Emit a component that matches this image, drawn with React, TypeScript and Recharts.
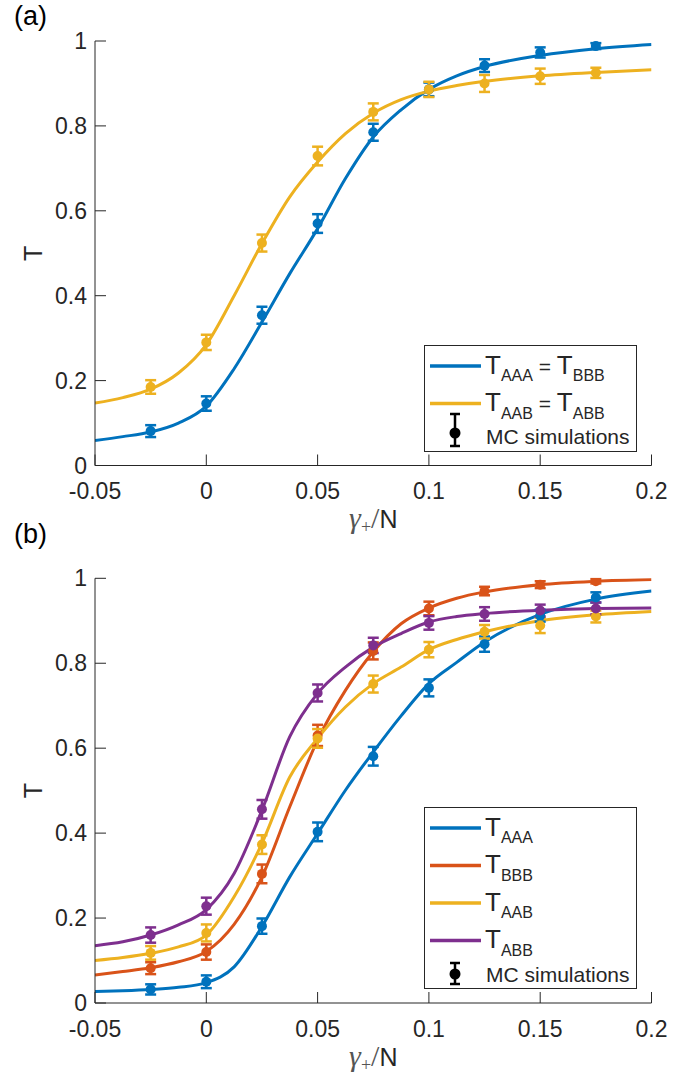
import { ComposedChart, Line, Scatter, ErrorBar, XAxis, YAxis, Legend, Label } from 'recharts';

const FONT = '"Liberation Sans", Arial, Helvetica, sans-serif';
const AXIS = '#262626';
const BLUE = '#0072BD';
const ORANGE = '#D95319';
const YELLOW = '#EDB120';
const PURPLE = '#7E2F8E';

const xTicks = [-0.05, 0, 0.05, 0.1, 0.15, 0.2];
const yTicks = [0, 0.2, 0.4, 0.6, 0.8, 1];

// x positions of the theory curves and of the MC points
const curveX = [-0.05, -0.0375, -0.025, -0.0125, 0, 0.0125, 0.025, 0.0375, 0.05, 0.0625, 0.075, 0.0875, 0.1, 0.1125, 0.125, 0.15, 0.175, 0.2];
const mcX = [-0.025, 0, 0.025, 0.05, 0.075, 0.1, 0.125, 0.15, 0.175];

// panel (a)
const aCurveAAA = [0.059, 0.068, 0.079, 0.1, 0.14, 0.228, 0.338, 0.452, 0.558, 0.676, 0.774, 0.838, 0.886, 0.918, 0.94, 0.966, 0.982, 0.992];
const aCurveAAB = [0.147, 0.16, 0.18, 0.218, 0.285, 0.4, 0.523, 0.633, 0.715, 0.782, 0.83, 0.862, 0.882, 0.895, 0.905, 0.918, 0.926, 0.932];
const aMcAAA = [0.081, 0.146, 0.354, 0.57, 0.785, 0.886, 0.942, 0.973, 0.988];
const aErrAAA = [0.014, 0.017, 0.02, 0.022, 0.02, 0.016, 0.015, 0.012, 0.007];
const aMcAAB = [0.185, 0.29, 0.524, 0.729, 0.833, 0.886, 0.9, 0.917, 0.925];
const aErrAAB = [0.016, 0.018, 0.02, 0.022, 0.02, 0.018, 0.02, 0.018, 0.012];

// panel (b)
const bCurveAAA = [0.027, 0.029, 0.032, 0.037, 0.048, 0.085, 0.18, 0.297, 0.399, 0.501, 0.591, 0.676, 0.752, 0.802, 0.85, 0.915, 0.951, 0.97];
const bCurveBBB = [0.066, 0.074, 0.083, 0.097, 0.121, 0.185, 0.297, 0.462, 0.619, 0.736, 0.827, 0.893, 0.93, 0.953, 0.968, 0.985, 0.993, 0.997];
const bCurveAAB = [0.1, 0.107, 0.117, 0.132, 0.16, 0.25, 0.376, 0.532, 0.623, 0.697, 0.752, 0.791, 0.832, 0.856, 0.874, 0.9, 0.914, 0.922];
const bCurveABB = [0.135, 0.144, 0.16, 0.184, 0.22, 0.305, 0.454, 0.627, 0.729, 0.791, 0.838, 0.87, 0.897, 0.91, 0.917, 0.925, 0.929, 0.93];
const bMcAAA = [0.032, 0.05, 0.181, 0.403, 0.581, 0.742, 0.845, 0.912, 0.955];
const bErrAAA = [0.012, 0.015, 0.018, 0.022, 0.022, 0.02, 0.018, 0.014, 0.012];
const bMcBBB = [0.082, 0.12, 0.304, 0.63, 0.829, 0.929, 0.97, 0.985, 0.993];
const bErrBBB = [0.014, 0.018, 0.022, 0.025, 0.02, 0.016, 0.01, 0.008, 0.005];
const bMcAAB = [0.118, 0.165, 0.373, 0.623, 0.751, 0.832, 0.874, 0.889, 0.91];
const bErrAAB = [0.016, 0.02, 0.022, 0.022, 0.02, 0.018, 0.016, 0.018, 0.014];
const bMcABB = [0.16, 0.228, 0.456, 0.73, 0.842, 0.895, 0.916, 0.924, 0.929];
const bErrABB = [0.018, 0.02, 0.022, 0.02, 0.018, 0.016, 0.016, 0.014, 0.014];

const toCurve = (ys: number[]) => curveX.map((x, i) => ({ x, y: ys[i] }));
const toPoints = (ys: number[], errs: number[]) => mcX.map((x, i) => ({ x, y: ys[i], err: errs[i] }));

type Series = { color: string; curve: number[]; mc: number[]; err: number[] };
type Entry = { color: string; sub: string; sub2?: string };
type McIcon = { top: number; bottom: number; dot: number; text: number };

function XLabel(props: any) {
  const vb = props.viewBox;
  const cx = vb.x + vb.width / 2;
  return (
    <text x={cx} y={vb.y + 62.5} textAnchor="middle" fill={AXIS}>
      <tspan fontFamily='"Liberation Serif", serif' fontStyle="italic" fontSize={30} fill="#555">γ</tspan>
      <tspan fontFamily='"Liberation Serif", serif' fontSize={18} dy={5} fill="#555">+</tspan>
      <tspan fontFamily='"Liberation Serif", serif' fontSize={30} dy={-5} fill="#555">/</tspan>
      <tspan fontFamily={FONT} fontSize={25}>N</tspan>
    </text>
  );
}

function YLabel(props: any) {
  const vb = props.viewBox;
  const x = 42;
  const y = vb.y + vb.height / 2;
  return (
    <text x={x} y={y} transform={`rotate(-90, ${x}, ${y})`} textAnchor="middle" fontFamily={FONT} fontSize={25} fill={AXIS}>
      T
    </text>
  );
}

function LegendBox({ entries, height, mc }: { entries: Entry[]; height: number; mc: McIcon }) {
  return (
    <div style={{ width: 213, height, boxSizing: 'border-box', border: `1px solid ${AXIS}`, background: '#fff' }}>
      <svg width={211} height={height - 2} style={{ display: 'block' }}>
        {entries.map((e, i) => {
          const ly = 20 + i * 37.5;
          return (
            <g key={i}>
              <line x1={5} x2={56} y1={ly} y2={ly} stroke={e.color} strokeWidth={3.5} />
              <text x={60} y={ly + 7.5} fontFamily={FONT} fill={AXIS}>
                <tspan fontSize={26}>T</tspan>
                <tspan fontSize={16} dy={7.5}>{e.sub}</tspan>
                {e.sub2 && <tspan fontSize={21} dy={-7.5}> = </tspan>}
                {e.sub2 && <tspan fontSize={26}>T</tspan>}
                {e.sub2 && <tspan fontSize={16} dy={7.5}>{e.sub2}</tspan>}
              </text>
            </g>
          );
        })}
        <line x1={30} x2={30} y1={mc.top} y2={mc.bottom} stroke="#000" strokeWidth={2.5} />
        <line x1={25} x2={35} y1={mc.top} y2={mc.top} stroke="#000" strokeWidth={2.5} />
        <line x1={25} x2={35} y1={mc.bottom} y2={mc.bottom} stroke="#000" strokeWidth={2.5} />
        <circle cx={30} cy={mc.dot} r={5.5} fill="#000" />
        <text x={61} y={mc.text} fontFamily={FONT} fontSize={21} fill={AXIS}>MC simulations</text>
      </svg>
    </div>
  );
}

function Panel({ top, height, marginTop, axisHeight, series, entries, legendTop, legendHeight, mc }: {
  top: number; height: number; marginTop: number; axisHeight: number; series: Series[]; entries: Entry[];
  legendTop: number; legendHeight: number; mc: McIcon;
}) {
  return (
    <div style={{ position: 'absolute', left: 0, top, width: 685, height }}>
      <ComposedChart width={685} height={height} margin={{ top: marginTop, right: 33.5, bottom: 0, left: 0 }}>
        <XAxis
          dataKey="x"
          type="number"
          domain={[-0.05, 0.2]}
          ticks={xTicks}
          height={axisHeight}
          tickSize={-11}
          tickMargin={28.5}
          stroke={AXIS}
          tick={{ fill: AXIS, fontSize: 23, fontFamily: FONT }}
          tickFormatter={(v) => String(v)}
          allowDataOverflow
        >
          <Label content={XLabel} />
        </XAxis>
        <YAxis
          type="number"
          domain={[0, 1]}
          ticks={yTicks}
          width={95}
          tickSize={-11}
          tickMargin={19}
          stroke={AXIS}
          tick={{ fill: AXIS, fontSize: 23, fontFamily: FONT }}
          allowDataOverflow
        >
          <Label content={YLabel} />
        </YAxis>
        {series.map((s, i) => (
          <Line
            key={`l${i}`}
            data={toCurve(s.curve)}
            dataKey="y"
            type="monotone"
            stroke={s.color}
            strokeWidth={3}
            dot={false}
            isAnimationActive={false}
          />
        ))}
        {series.map((s, i) => (
          <Scatter
            key={`s${i}`}
            data={toPoints(s.mc, s.err)}
            dataKey="y"
            fill={s.color}
            isAnimationActive={false}
            shape={(p: any) => <circle cx={p.cx} cy={p.cy} r={5} fill={s.color} />}
          >
            <ErrorBar dataKey="err" direction="y" width={5.5} strokeWidth={2.5} stroke={s.color} />
          </Scatter>
        ))}
        <Legend
          layout="vertical"
          align="center"
          verticalAlign="middle"
          wrapperStyle={{ left: 424, top: legendTop, width: 213, height: legendHeight }}
          content={() => <LegendBox entries={entries} height={legendHeight} mc={mc} />}
        />
      </ComposedChart>
    </div>
  );
}

const seriesA: Series[] = [
  { color: BLUE, curve: aCurveAAA, mc: aMcAAA, err: aErrAAA },
  { color: YELLOW, curve: aCurveAAB, mc: aMcAAB, err: aErrAAB },
];
const seriesB: Series[] = [
  { color: BLUE, curve: bCurveAAA, mc: bMcAAA, err: bErrAAA },
  { color: ORANGE, curve: bCurveBBB, mc: bMcBBB, err: bErrBBB },
  { color: YELLOW, curve: bCurveAAB, mc: bMcAAB, err: bErrAAB },
  { color: PURPLE, curve: bCurveABB, mc: bMcABB, err: bErrABB },
];
const entriesA: Entry[] = [
  { color: BLUE, sub: 'AAA', sub2: 'BBB' },
  { color: YELLOW, sub: 'AAB', sub2: 'ABB' },
];
const entriesB: Entry[] = [
  { color: BLUE, sub: 'AAA' },
  { color: ORANGE, sub: 'BBB' },
  { color: YELLOW, sub: 'AAB' },
  { color: PURPLE, sub: 'ABB' },
];

const tagStyle = { position: 'absolute' as const, left: 14, fontFamily: FONT, fontSize: 27, lineHeight: '27px', color: '#000' };

export default function App() {
  return (
    <div style={{ position: 'absolute', left: 0, top: 0, width: 685, height: 1075, background: '#fff' }}>
      <Panel
        top={0}
        height={540}
        marginTop={41}
        axisHeight={74.5}
        series={seriesA}
        entries={entriesA}
        legendTop={345}
        legendHeight={107}
        mc={{ top: 68, bottom: 100, dot: 87, text: 98 }}
      />
      <Panel
        top={540}
        height={535}
        marginTop={38.3}
        axisHeight={72}
        series={seriesB}
        entries={entriesB}
        legendTop={267}
        legendHeight={182}
        mc={{ top: 155, bottom: 176, dot: 166, text: 174 }}
      />
      <div style={{ ...tagStyle, top: 3 }}>(a)</div>
      <div style={{ ...tagStyle, top: 521 }}>(b)</div>
    </div>
  );
}
